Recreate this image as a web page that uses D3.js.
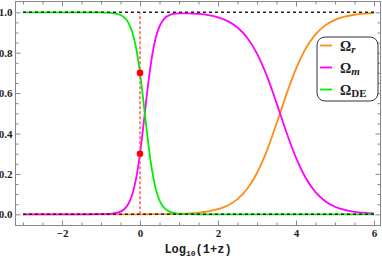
<!DOCTYPE html>
<html>
<head>
<meta charset="utf-8">
<script src="https://cdn.jsdelivr.net/npm/d3@7"></script>
<style>
  body { margin: 0; background: #fff; }
  svg { display: block; }
  .tick line { stroke: #888; }
  .tick text { font-family: "Liberation Serif", "DejaVu Serif", serif; font-weight: bold; font-size: 11px; fill: #222; }
</style>
</head>
<body>
<script>
// log10(1+z) sample points
const logZ = [-3, -2, -1.5, -1, -0.75, -0.5, -0.4, -0.3, -0.2, -0.1,
  -0.05, 0, 0.05, 0.1, 0.15, 0.2, 0.25, 0.3, 0.4, 0.5,
  0.6, 0.8, 1, 1.25, 1.5, 1.75, 2, 2.25, 2.5, 2.75,
  3, 3.25, 3.5, 3.75, 4, 4.25, 4.5, 4.75, 5, 5.25,
  5.5, 5.75, 6];

const omegaR = [0, 0, 0, 0, 0, 0, 0, 0, 0, 0,
  0, 0.0001, 0.0001, 0.00015, 0.0002, 0.00026, 0.00032, 0.0004, 0.00056, 0.00076,
  0.00099, 0.0016, 0.0026, 0.0045, 0.0081, 0.0143, 0.0251, 0.0437, 0.0752, 0.1263,
  0.2045, 0.3137, 0.4484, 0.5911, 0.7199, 0.8205, 0.8904, 0.9353, 0.9626, 0.9786,
  0.9878, 0.9931, 0.9961];

const omegaM = [0, 0, 0.00001, 0.0004, 0.0024, 0.0134, 0.0263, 0.0512, 0.0972, 0.1768,
  0.2328, 0.3, 0.377, 0.461, 0.547, 0.6305, 0.7064, 0.7726, 0.8711, 0.9305,
  0.9633, 0.9892, 0.9951, 0.9951, 0.9918, 0.9857, 0.9749, 0.9563, 0.9248, 0.8737,
  0.7955, 0.6863, 0.5516, 0.4089, 0.2801, 0.1795, 0.1096, 0.0647, 0.0374, 0.0214,
  0.0122, 0.0069, 0.0039];

const omegaDE = [1, 1, 1, 0.9996, 0.9976, 0.9866, 0.9737, 0.9488, 0.9028, 0.8232,
  0.7672, 0.7, 0.623, 0.539, 0.453, 0.3695, 0.2933, 0.227, 0.1283, 0.0687,
  0.0357, 0.0092, 0.0023, 0.0004, 0.0001, 0, 0, 0, 0, 0,
  0, 0, 0, 0, 0, 0, 0, 0, 0, 0,
  0, 0, 0];

// today's values (red dots)
const todayX = [0, 0];
const todayY = [0.7, 0.3];

const xMajor = [-2, 0, 2, 4, 6];
const yMajor = [0, 0.2, 0.4, 0.6, 0.8, 1.0];

const W = 382, H = 260;
const frame = { left: 15.5, right: 380.5, top: 1.5, bottom: 225.5 };

const x = d3.scaleLinear().domain([-3, 6]).range([23, 374]);
const y = d3.scaleLinear().domain([0, 1]).range([214.3, 12.3]);

const svg = d3.select("body").append("svg")
  .attr("width", W).attr("height", H);

const xMinor = d3.range(-3, 6.01, 0.5).filter(v => !xMajor.includes(v));
const yMinor = d3.range(0, 1.001, 0.05).map(v => +v.toFixed(2)).filter(v => !yMajor.some(m => Math.abs(m - v) < 1e-9));

// ticks on all four sides, pointing inward
function ticks(axisFn, scale, vals, size, pos, labels, fmt) {
  const g = svg.append("g").attr("transform", pos)
    .call(axisFn(scale).tickValues(vals).tickSizeInner(-size).tickSizeOuter(0)
      .tickPadding(4).tickFormat(labels ? fmt : ""));
  g.select(".domain").remove();
  return g;
}
const xFmt = d => d < 0 ? "\u2212" + Math.abs(d) : d;
const yFmt = d3.format(".1f");

ticks(d3.axisBottom, x, xMajor, 5, `translate(0,${frame.bottom})`, true, xFmt);
ticks(d3.axisBottom, x, xMinor, 3, `translate(0,${frame.bottom})`, false);
ticks(d3.axisTop, x, xMajor, 5, `translate(0,${frame.top})`, false);
ticks(d3.axisTop, x, xMinor, 3, `translate(0,${frame.top})`, false);
ticks(d3.axisLeft, y, yMajor, 5, `translate(${frame.left},0)`, true, yFmt).selectAll("text").attr("dx", "1");
ticks(d3.axisLeft, y, yMinor, 3, `translate(${frame.left},0)`, false);
ticks(d3.axisRight, y, yMajor, 5, `translate(${frame.right},0)`, false);
ticks(d3.axisRight, y, yMinor, 3, `translate(${frame.right},0)`, false);

svg.append("rect")
  .attr("x", frame.left).attr("y", frame.top)
  .attr("width", frame.right - frame.left).attr("height", frame.bottom - frame.top)
  .attr("fill", "none").attr("stroke", "#888").attr("stroke-width", 1);

// curves
const series = [
  { vals: omegaR, color: "#ff8c1a" },
  { vals: omegaM, color: "#ff00ff" },
  { vals: omegaDE, color: "#00ee00" }
];
const line = d3.line()
  .x(d => x(d[0])).y(d => y(d[1]))
  .curve(d3.curveMonotoneX);

series.forEach(s => {
  svg.append("path")
    .datum(logZ.map((v, i) => [v, s.vals[i]]))
    .attr("d", line)
    .attr("fill", "none")
    .attr("stroke", s.color)
    .attr("stroke-width", 1.8);
});

// reference lines
[0, 1].forEach(v => {
  svg.append("line")
    .attr("x1", x(-3)).attr("x2", x(6))
    .attr("y1", y(v)).attr("y2", y(v))
    .attr("stroke", "#222").attr("stroke-width", 1.4)
    .attr("stroke-dasharray", "3,3");
});
svg.append("line")
  .attr("x1", x(0)).attr("x2", x(0))
  .attr("y1", y(0)).attr("y2", y(1))
  .attr("stroke", "#ff5a5a").attr("stroke-width", 1.5)
  .attr("stroke-dasharray", "3,2");

svg.selectAll(".today")
  .data(todayX.map((v, i) => [v, todayY[i]]))
  .enter().append("circle")
  .attr("class", "today")
  .attr("cx", d => x(d[0])).attr("cy", d => y(d[1]))
  .attr("r", 3.3).attr("fill", "#ff0000");

// x axis label
const lab = svg.append("text")
  .attr("x", (frame.left + frame.right) / 2).attr("y", 253)
  .attr("text-anchor", "middle")
  .attr("font-family", "'Liberation Mono', 'DejaVu Sans Mono', monospace")
  .attr("font-weight", "bold").attr("font-size", 12).attr("fill", "#222");
lab.append("tspan").text("Log");
lab.append("tspan").attr("font-size", 8).attr("dy", 3).text("10");
lab.append("tspan").attr("dy", -3).text("(1+z)");

// legend
const leg = svg.append("g").attr("transform", "translate(317,37)");
leg.append("rect")
  .attr("width", 61).attr("height", 64).attr("rx", 8)
  .attr("fill", "#fff").attr("stroke", "#333").attr("stroke-width", 1);
const legItems = [
  { main: "\u03A9", sub: "r", italic: true, color: series[0].color },
  { main: "\u03A9", sub: "m", italic: true, color: series[1].color },
  { main: "\u03A9", sub: "DE", italic: false, color: series[2].color }
];
legItems.forEach((d, i) => {
  const cy = 8.5 + i * 22;
  leg.append("line")
    .attr("x1", 3).attr("x2", 15).attr("y1", cy).attr("y2", cy)
    .attr("stroke", d.color).attr("stroke-width", 1.8);
  const t = leg.append("text")
    .attr("x", 23).attr("y", cy + 5)
    .attr("font-family", "'Liberation Serif', 'DejaVu Serif', serif")
    .attr("font-weight", "bold").attr("font-size", 14).attr("fill", "#222");
  t.append("tspan").text(d.main);
  t.append("tspan").attr("font-size", 11).attr("dy", 2)
    .attr("font-style", d.italic ? "italic" : "normal").text(d.sub);
});
</script>
</body>
</html>
